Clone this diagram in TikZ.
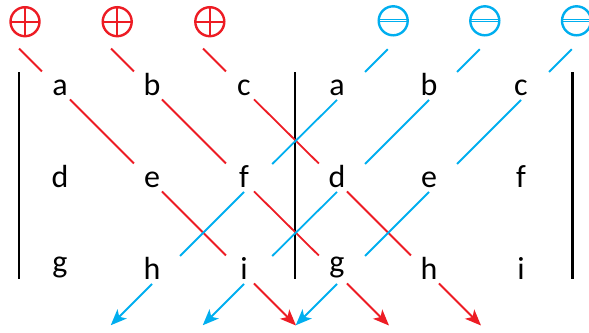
\documentclass[tikz,border=0pt]{standalone}
\usepackage{fontspec}
\setmainfont{Carlito}
\usetikzlibrary{arrows.meta}
\definecolor{myred}{RGB}{237,28,36}
\definecolor{myblue}{RGB}{0,174,239}
\begin{document}
\begin{tikzpicture}[x=1pt,y=-1pt,
  letter/.style={inner sep=0pt, text height=15pt, text depth=0pt, font=\fontsize{32}{38}\selectfont},
  redseg/.style={draw=myred, line width=1.8pt},
  blueseg/.style={draw=myblue, line width=1.8pt},
  redmid/.style={redseg, shorten <=14.1pt, shorten >=25.5pt},
  bluemid/.style={blueseg, shorten <=8.8pt, shorten >=30.8pt},
  tipstyle/.style={-{Stealth[length=16pt,width=13pt,inset=4pt]}},
  bar/.style={draw=black, line width=2.2pt},
  plussym/.style={circle, draw=myred, line width=2.4pt, minimum size=29pt, inner sep=0pt,
    path picture={\draw[myred, line width=2.4pt]
      (path picture bounding box.north) -- (path picture bounding box.south)
      (path picture bounding box.west) -- (path picture bounding box.east);}},
  minussym/.style={circle, draw=myblue, line width=2.4pt, minimum size=29pt, inner sep=0pt,
    path picture={\draw[myblue, line width=0.9pt, double=white, double distance=1.3pt]
      (path picture bounding box.west) -- (path picture bounding box.east);}}
]
\useasboundingbox (0,0) rectangle (589,332);

% letters, left matrix
\node[letter] (a1) at (60,87.5) {a};
\node[letter] (b1) at (152,87.5) {b};
\node[letter] (c1) at (244,87.5) {c};
\node[letter] (d1) at (60,179.5) {d};
\node[letter] (e1) at (152,179.5) {e};
\node[letter] (f1) at (244,179.5) {f};
\node[letter] (g1) at (60,271.5) {\raisebox{6.5pt}{g}};
\node[letter] (h1) at (152,271.5) {h};
\node[letter] (i1) at (244,271.5) {i};
% letters, right matrix
\node[letter] (a2) at (337,87.5) {a};
\node[letter] (b2) at (429,87.5) {b};
\node[letter] (c2) at (521,87.5) {c};
\node[letter] (d2) at (337,179.5) {d};
\node[letter] (e2) at (429,179.5) {e};
\node[letter] (f2) at (521,179.5) {f};
\node[letter] (g2) at (337,271.5) {\raisebox{6.5pt}{g}};
\node[letter] (h2) at (429,271.5) {h};
\node[letter] (i2) at (521,271.5) {i};

% pass points of the diagonals
\foreach \n in {a1,b1,c1,d1,e1,f1,g1,h1,i1,a2,b2,c2,d2,e2,f2,g2,h2,i2}{
  \coordinate (\n-r) at ([shift={(0,2)}]\n.center);
  \coordinate (\n-b) at ([shift={(6.25,6.25)}]\n.center);
}

% bars
\draw[bar] (18.7,72) -- (18.7,279);
\draw[bar] (295.2,72) -- (295.2,279);
\draw[bar] (572.5,72) -- (572.5,279);

% symbols
\node[plussym] (p1) at (25,21.7) {};
\node[plussym] (p2) at (117.2,21.7) {};
\node[plussym] (p3) at (209.8,21.7) {};
\node[minussym] (m1) at (393.2,20.8) {};
\node[minussym] (m2) at (484.8,20.8) {};
\node[minussym] (m3) at (576.5,20.8) {};

% start and end coordinates
\coordinate (r1s) at ([shift={(-41,-41)}]a1-r);
\coordinate (r2s) at ([shift={(-41,-41)}]b1-r);
\coordinate (r3s) at ([shift={(-41,-41)}]c1-r);
\coordinate (r1t) at ([shift={(52,52)}]i1-r);
\coordinate (r2t) at ([shift={(52,52)}]g2-r);
\coordinate (r3t) at ([shift={(52,52)}]h2-r);
\coordinate (b1s) at ([shift={(44.5,-44.5)}]a2-b);
\coordinate (b2s) at ([shift={(44.5,-44.5)}]b2-b);
\coordinate (b3s) at ([shift={(44.5,-44.5)}]c2-b);
\coordinate (b1t) at ([shift={(-47.5,47.5)}]h1-b);
\coordinate (b2t) at ([shift={(-47.5,47.5)}]i1-b);
\coordinate (b3t) at ([shift={(-47.5,47.5)}]g2-b);

% red diagonals
\draw[redseg, shorten >=25.5pt] (r1s) -- (a1-r);
\draw[redmid] (a1-r) -- (e1-r);
\draw[redmid] (e1-r) -- (i1-r);
\draw[redseg, tipstyle, shorten <=14.1pt] (i1-r) -- (r1t);

\draw[redseg, shorten >=25.5pt] (r2s) -- (b1-r);
\draw[redmid] (b1-r) -- (f1-r);
\draw[redmid] (f1-r) -- (g2-r);
\draw[redseg, tipstyle, shorten <=14.1pt] (g2-r) -- (r2t);

\draw[redseg, shorten >=25.5pt] (r3s) -- (c1-r);
\draw[redmid] (c1-r) -- (d2-r);
\draw[redmid] (d2-r) -- (h2-r);
\draw[redseg, tipstyle, shorten <=14.1pt] (h2-r) -- (r3t);

% blue diagonals
\draw[blueseg, shorten >=30.8pt] (b1s) -- (a2-b);
\draw[bluemid] (a2-b) -- (f1-b);
\draw[bluemid] (f1-b) -- (h1-b);
\draw[blueseg, tipstyle, shorten <=8.8pt] (h1-b) -- (b1t);

\draw[blueseg, shorten >=30.8pt] (b2s) -- (b2-b);
\draw[bluemid] (b2-b) -- (d2-b);
\draw[bluemid] (d2-b) -- (i1-b);
\draw[blueseg, tipstyle, shorten <=8.8pt] (i1-b) -- (b2t);

\draw[blueseg, shorten >=30.8pt] (b3s) -- (c2-b);
\draw[bluemid] (c2-b) -- (e2-b);
\draw[bluemid] (e2-b) -- (g2-b);
\draw[blueseg, tipstyle, shorten <=8.8pt] (g2-b) -- (b3t);
\end{tikzpicture}
\end{document}
